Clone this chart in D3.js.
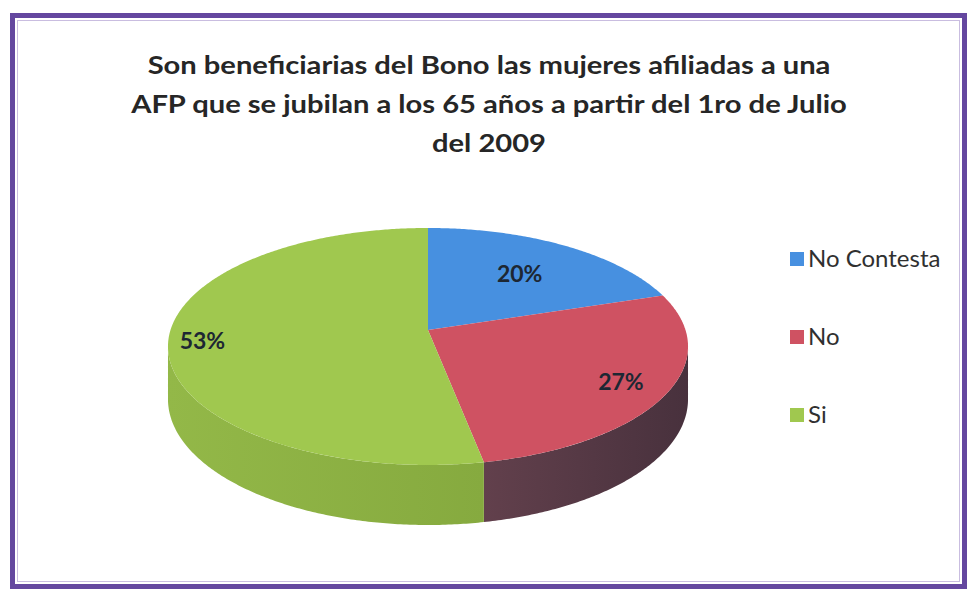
<!DOCTYPE html>
<html>
<head>
<meta charset="utf-8">
<script src="https://cdn.jsdelivr.net/npm/d3@7"></script>
<style>
  body { margin: 0; background: #fff; }
  svg { display: block; }
  .titulo { font-family: Lato, "Open Sans", sans-serif; font-weight: bold; font-size: 24.5px; fill: #262626; }
  .leyenda { font-family: Lato, "Open Sans", sans-serif; font-size: 24px; fill: #303030; }
  .etiqueta { font-family: Lato, "Open Sans", sans-serif; font-weight: bold; font-size: 23px; fill: #1d2733; }
</style>
</head>
<body>
<div id="grafica"></div>
<script>
// Datos
const titulo = [
  "Son beneficiarias del Bono las mujeres afiliadas a una",
  "AFP que se jubilan a los 65 años a partir del 1ro de Julio",
  "del 2009"
]
const categorias = ["No Contesta", "No", "Si"]
const valores = [20, 27, 53]
const coloresTapa = ["#4790e0", "#cf5262", "#a0c84f"]
const coloresLado = [["#3a74b8", "#2d5c94"], ["#62404c", "#48313d"], ["#93b848", "#86aa3f"]]

const anchoTotal = 967
const altoTotal = 589

const svg = d3.select("#grafica")
  .append("svg")
  .attr("width", anchoTotal)
  .attr("height", altoTotal)

// marco morado
svg.append("rect")
  .attr("x", 12.5).attr("y", 15.5)
  .attr("width", 952).attr("height", 571)
  .attr("fill", "#fff")
  .attr("stroke", "#64479f")
  .attr("stroke-width", 5)
svg.append("rect")
  .attr("x", 17.5).attr("y", 20.5)
  .attr("width", 942).attr("height", 561)
  .attr("fill", "none")
  .attr("stroke", "#c9bde0")
  .attr("stroke-width", 1)

// titulo (la imagen original esta estirada a lo ancho)
svg.append("g")
  .selectAll("text")
  .data(titulo)
  .join("text")
  .attr("class", "titulo")
  .attr("transform", (d, i) => `translate(489, ${74 + i * 39}) scale(1.19, 1)`)
  .attr("text-anchor", "middle")
  .text(d => d)

// pastel 3D con algo de perspectiva
const cx = 428, cy = 330, rx = 257.5, ry = 116.2, k = 0.139, prof = 51.7

const proyectar = (a, f = 1) => {
  const u = Math.sin(a) * f
  const v = -Math.cos(a) * f
  const w = 1 / (1 - k * v)
  return [cx + rx * u * w, cy + ry * v * w, w]
}

const arco = (a0, a1) => {
  const n = Math.max(2, Math.ceil((a1 - a0) / 0.01))
  return d3.range(n + 1).map(i => proyectar(a0 + (a1 - a0) * i / n))
}

const pie = d3.pie().sort(null).value(d => d)
const arcos = pie(valores)

const linea = d3.line()

const defs = svg.append("defs")
coloresLado.forEach((c, i) => {
  const grad = defs.append("linearGradient")
    .attr("id", "lado" + i)
    .attr("x1", "0%").attr("x2", "100%")
    .attr("y1", "0%").attr("y2", "0%")
  grad.append("stop").attr("offset", "0%").attr("stop-color", c[0])
  grad.append("stop").attr("offset", "100%").attr("stop-color", c[1])
})

// paredes laterales (solo la mitad de adelante)
const aIzq = Math.acos(-k)
const aDer = 2 * Math.PI - aIzq
const gLados = svg.append("g")
arcos.forEach((d, i) => {
  const s = Math.max(d.startAngle, aIzq)
  const e = Math.min(d.endAngle, aDer)
  if (s >= e) return
  const arriba = arco(s, e)
  const abajo = arriba.slice().reverse().map(p => [p[0], p[1] + prof * p[2]])
  gLados.append("path")
    .attr("d", linea(arriba.concat(abajo).map(p => [p[0], p[1]])) + "Z")
    .attr("fill", `url(#lado${i})`)
})

// tapas
svg.append("g")
  .selectAll("path")
  .data(arcos)
  .join("path")
  .attr("d", d => linea([[cx, cy]].concat(arco(d.startAngle, d.endAngle).map(p => [p[0], p[1]]))) + "Z")
  .attr("fill", (d, i) => coloresTapa[i])

// etiquetas de porcentaje
const radioEtiqueta = [0.65, 0.82, 0.87]
svg.append("g")
  .selectAll("text")
  .data(arcos)
  .join("text")
  .attr("class", "etiqueta")
  .attr("text-anchor", "middle")
  .attr("dominant-baseline", "central")
  .attr("x", (d, i) => proyectar((d.startAngle + d.endAngle) / 2, radioEtiqueta[i])[0])
  .attr("y", (d, i) => proyectar((d.startAngle + d.endAngle) / 2, radioEtiqueta[i])[1])
  .text(d => d.data + "%")

// leyenda
const leyenda = svg.append("g")
  .selectAll("g")
  .data(categorias)
  .join("g")
  .attr("transform", (d, i) => `translate(790, ${267 + i * 78})`)

leyenda.append("rect")
  .attr("x", 0).attr("y", -15)
  .attr("width", 14).attr("height", 14)
  .attr("fill", (d, i) => coloresTapa[i])

leyenda.append("text")
  .attr("class", "leyenda")
  .attr("x", 18)
  .attr("y", 0)
  .text(d => d)
</script>
</body>
</html>
